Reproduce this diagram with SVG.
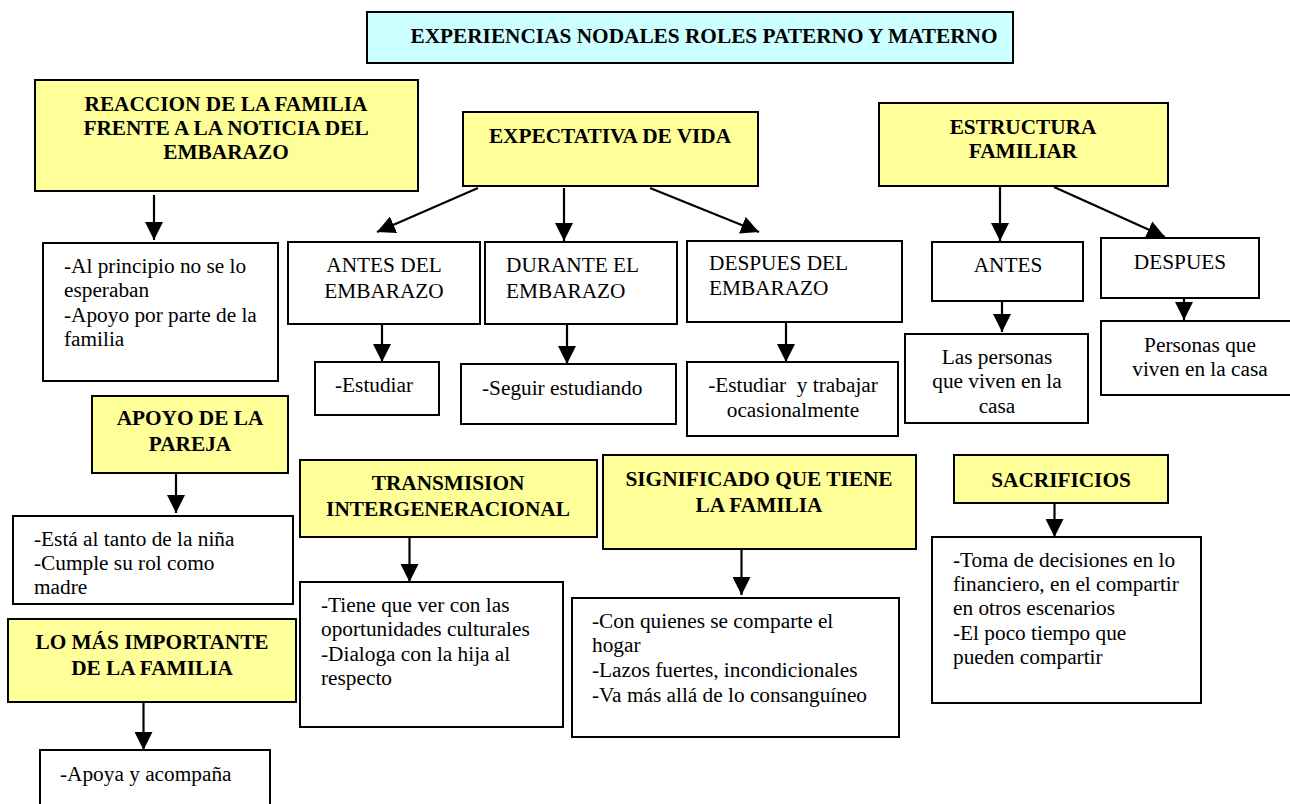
<svg xmlns="http://www.w3.org/2000/svg" width="1290" height="804" viewBox="0 0 1290 804">
<style>
.box{stroke:#000;stroke-width:2}
.y{fill:#FFFF99}
.w{fill:#FFFFFF}
.c{fill:#CCFFFF}
text{font-family:"Liberation Serif","Times New Roman",serif;font-size:21.3px;fill:#000}
.b{font-weight:bold}
.m{text-anchor:middle}
.con line{stroke:#000;stroke-width:2.2}
</style>
<defs>
<marker id="ah" markerUnits="userSpaceOnUse" markerWidth="18" markerHeight="18" viewBox="0 0 16 16" refX="16" refY="8" orient="auto">
<path d="M0,0 L16,8 L0,16 Z" fill="#000"/>
</marker>
</defs>
<rect width="1290" height="804" fill="#fff"/>

<g id="title"><rect class="box c" x="367" y="12" width="646" height="51"/><text class="b m" x="704" y="43">EXPERIENCIAS NODALES ROLES PATERNO Y MATERNO</text></g>

<g id="reaccion"><rect class="box y" x="35" y="80" width="383" height="111"/>
<text class="b m" x="226" y="111">REACCION DE LA FAMILIA</text>
<text class="b m" x="226" y="135">FRENTE A LA NOTICIA DEL</text>
<text class="b m" x="226" y="159">EMBARAZO</text></g>

<g id="reaccion-det"><rect class="box w" x="43" y="243" width="235" height="138"/>
<text x="64" y="273">-Al principio no se lo</text>
<text x="64" y="297">esperaban</text>
<text x="64" y="322">-Apoyo por parte de la</text>
<text x="64" y="346">familia</text></g>

<g id="expectativa"><rect class="box y" x="463" y="112" width="295" height="74"/>
<text class="b m" x="610" y="143">EXPECTATIVA DE VIDA</text></g>

<g id="antes-emb"><rect class="box w" x="288" y="242" width="192" height="82"/>
<text class="m" x="384" y="272">ANTES DEL</text>
<text class="m" x="384" y="298">EMBARAZO</text></g>

<g id="durante-emb"><rect class="box w" x="485" y="242" width="192" height="82"/>
<text x="506" y="272">DURANTE EL</text>
<text x="506" y="298">EMBARAZO</text></g>

<g id="despues-emb"><rect class="box w" x="687" y="241" width="215" height="81"/>
<text x="709" y="270">DESPUES DEL</text>
<text x="709" y="295">EMBARAZO</text></g>

<g id="estudiar"><rect class="box w" x="315" y="362" width="124" height="53"/>
<text x="335" y="392">-Estudiar</text></g>

<g id="seguir"><rect class="box w" x="461" y="364" width="215" height="60"/>
<text x="482" y="395">-Seguir estudiando</text></g>

<g id="trabajar"><rect class="box w" x="687" y="362" width="211" height="74"/>
<text class="m" x="793" y="392" xml:space="preserve">-Estudiar  y trabajar</text>
<text class="m" x="793" y="417">ocasionalmente</text></g>

<g id="estructura"><rect class="box y" x="879" y="103" width="289" height="83"/>
<text class="b m" x="1023" y="134">ESTRUCTURA</text>
<text class="b m" x="1023" y="158">FAMILIAR</text></g>

<g id="antes"><rect class="box w" x="932" y="242" width="151" height="59"/>
<text class="m" x="1008" y="272">ANTES</text></g>

<g id="despues"><rect class="box w" x="1101" y="238" width="158" height="60"/>
<text class="m" x="1180" y="269">DESPUES</text></g>

<g id="las-personas"><rect class="box w" x="905" y="334" width="183" height="89"/>
<text class="m" x="997" y="364">Las personas</text>
<text class="m" x="997" y="388">que viven en la</text>
<text class="m" x="997" y="413">casa</text></g>

<g id="personas"><rect class="box w" x="1101" y="321" width="198" height="74"/>
<text class="m" x="1200" y="352">Personas que</text>
<text class="m" x="1200" y="376">viven en la casa</text></g>

<g id="apoyo-pareja"><rect class="box y" x="92" y="396" width="196" height="77"/>
<text class="b m" x="190" y="425">APOYO DE LA</text>
<text class="b m" x="190" y="451">PAREJA</text></g>

<g id="esta"><rect class="box w" x="13" y="516" width="280" height="88"/>
<text x="34" y="546">-Está al tanto de la niña</text>
<text x="34" y="570">-Cumple su rol como</text>
<text x="34" y="594">madre</text></g>

<g id="importante"><rect class="box y" x="8" y="619" width="288" height="83"/>
<text class="b m" x="152" y="649">LO MÁS IMPORTANTE</text>
<text class="b m" x="152" y="675">DE LA FAMILIA</text></g>

<g id="apoya"><rect class="box w" x="40" y="750" width="230" height="70"/>
<text x="60" y="781">-Apoya y acompaña</text></g>

<g id="transmision"><rect class="box y" x="300" y="460" width="297" height="77"/>
<text class="b m" x="448" y="490">TRANSMISION</text>
<text class="b m" x="448" y="516">INTERGENERACIONAL</text></g>

<g id="tiene"><rect class="box w" x="300" y="582" width="263" height="145"/>
<text x="321" y="612">-Tiene que ver con las</text>
<text x="321" y="636">oportunidades culturales</text>
<text x="321" y="661">-Dialoga con la hija al</text>
<text x="321" y="685">respecto</text></g>

<g id="significado"><rect class="box y" x="603" y="455" width="313" height="94"/>
<text class="b m" x="759" y="486">SIGNIFICADO QUE TIENE</text>
<text class="b m" x="759" y="512">LA FAMILIA</text></g>

<g id="con-quienes"><rect class="box w" x="572" y="598" width="327" height="139"/>
<text x="592" y="628">-Con quienes se comparte el</text>
<text x="592" y="652">hogar</text>
<text x="592" y="677">-Lazos fuertes, incondicionales</text>
<text x="592" y="702">-Va más allá de lo consanguíneo</text></g>

<g id="sacrificios"><rect class="box y" x="954" y="455" width="214" height="48"/>
<text class="b m" x="1061" y="487">SACRIFICIOS</text></g>

<g id="toma"><rect class="box w" x="932" y="537" width="269" height="166"/>
<text x="953" y="567">-Toma de decisiones en lo</text>
<text x="953" y="591">financiero, en el compartir</text>
<text x="953" y="615">en otros escenarios</text>
<text x="953" y="640">-El poco tiempo que</text>
<text x="953" y="664">pueden compartir</text></g>

<g id="connectors" class="con">
<line x1="154" y1="195" x2="154" y2="240" marker-end="url(#ah)"/>
<line x1="478" y1="188" x2="377" y2="232" marker-end="url(#ah)"/>
<line x1="564" y1="188" x2="564" y2="241" marker-end="url(#ah)"/>
<line x1="650" y1="188" x2="759" y2="232" marker-end="url(#ah)"/>
<line x1="382" y1="324" x2="382" y2="362" marker-end="url(#ah)"/>
<line x1="567" y1="324" x2="567" y2="364" marker-end="url(#ah)"/>
<line x1="786" y1="322" x2="786" y2="362" marker-end="url(#ah)"/>
<line x1="1000" y1="187" x2="1000" y2="241" marker-end="url(#ah)"/>
<line x1="1054" y1="187" x2="1165" y2="237" marker-end="url(#ah)"/>
<line x1="1002" y1="301" x2="1002" y2="332" marker-end="url(#ah)"/>
<line x1="1184" y1="298" x2="1184" y2="320" marker-end="url(#ah)"/>
<line x1="176" y1="473" x2="176" y2="513" marker-end="url(#ah)"/>
<line x1="143.5" y1="702" x2="143.5" y2="750" marker-end="url(#ah)"/>
<line x1="409.5" y1="537" x2="409.5" y2="582" marker-end="url(#ah)"/>
<line x1="741.5" y1="549" x2="741.5" y2="595" marker-end="url(#ah)"/>
<line x1="1054.5" y1="503" x2="1054.5" y2="537" marker-end="url(#ah)"/>
</g>
</svg>
